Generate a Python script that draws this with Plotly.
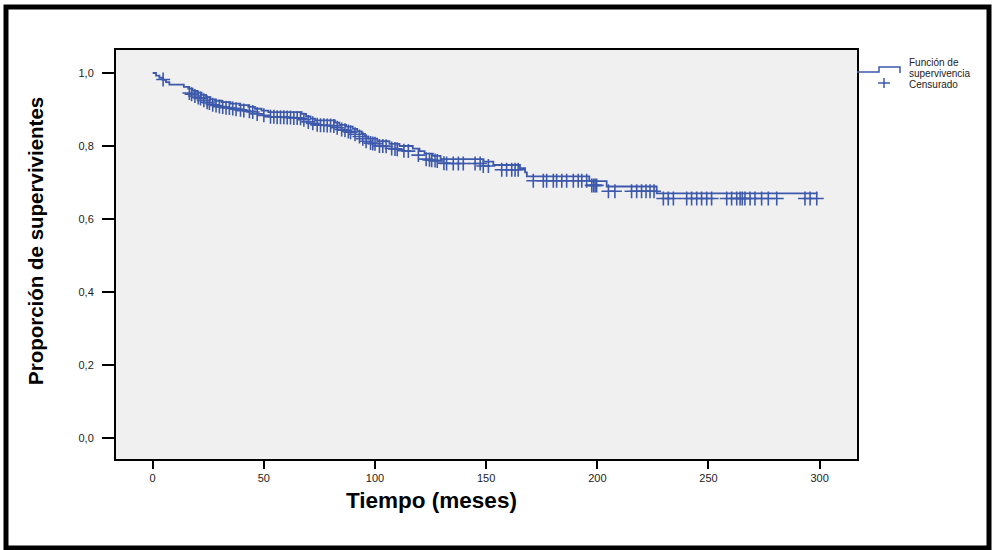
import plotly.graph_objects as go

# Step function (Kaplan-Meier line levels)
surv_time = [0, 1.5, 3, 4.5, 6, 7.5, 14, 16, 18, 20, 22, 24, 26, 28, 31, 35, 39, 43, 46, 49, 52,
             67, 69, 71, 73, 82, 84, 87, 90, 92, 94, 95.5, 97, 101, 106.5, 111, 117, 120, 122.3,
             126, 129.5, 148.8, 153.2, 165.2, 167.5, 168.3, 196.4, 204.2, 226.7, 299]
surv_prob = [1.000, 0.993, 0.987, 0.981, 0.975, 0.968, 0.962, 0.957, 0.951, 0.946, 0.940, 0.934,
             0.928, 0.924, 0.920, 0.916, 0.912, 0.907, 0.902, 0.897, 0.893,
             0.888, 0.881, 0.875, 0.870, 0.864, 0.858, 0.853, 0.847, 0.840, 0.833, 0.826, 0.820,
             0.813, 0.806, 0.800, 0.793, 0.786, 0.779, 0.773, 0.764, 0.757, 0.748, 0.739, 0.728,
             0.717, 0.704, 0.689, 0.670, 0.670]

# Censored observations (as drawn)
cens_time = [4.7, 16.5, 17.5, 19, 20.5, 21.5, 23, 24.5, 25.5, 27, 28.5, 30, 31.5, 33, 34.5, 36,
             37.5, 39.5, 41, 43.5, 45, 47, 50, 53, 54.5, 56, 57.5, 59, 60.5, 62, 63.5, 65, 66.5,
             68, 70, 72, 74, 75.5, 77, 78.5, 80, 81.5, 83, 85, 86.5, 88, 89, 91, 93, 94.5, 96,
             98, 99, 100, 102, 103.5, 105, 107.5, 109, 110, 113, 115, 119.5, 123, 124.5, 125.5,
             127, 128, 131, 132.2, 135.2, 137.5, 139.7, 145, 147.3, 148.7, 151, 157, 159.2,
             161.5, 163, 164.4, 171.2, 175.7, 177.2, 180.2, 181.7, 184, 186.2, 189.2, 191.4,
             193, 195.2, 197.5, 198.3, 199, 199.7, 205, 207.9, 215.4, 217.7, 219.9, 221.9,
             223.7, 225.5, 229.7, 231.9, 234.2, 240.2, 242.4, 244.7, 246.9, 249.2, 251.4,
             258.2, 260.4, 262.7, 264.2, 265.2, 266.4, 268.7, 270.9, 273.9, 276.9, 280.7,
             293.4, 295.7, 298.7]
cens_prob = [0.982, 0.945, 0.942, 0.937, 0.933, 0.930, 0.925, 0.920, 0.918, 0.913, 0.911, 0.908,
             0.907, 0.905, 0.904, 0.903, 0.901, 0.899, 0.897, 0.895, 0.893, 0.888, 0.884, 0.880,
             0.880, 0.879, 0.879, 0.879, 0.878, 0.878, 0.877, 0.877, 0.876, 0.872, 0.866, 0.862,
             0.858, 0.857, 0.857, 0.856, 0.856, 0.855, 0.850, 0.845, 0.843, 0.840, 0.838, 0.832,
             0.826, 0.820, 0.813, 0.808, 0.807, 0.806, 0.800, 0.800, 0.799, 0.793, 0.792, 0.791,
             0.787, 0.786, 0.775, 0.764, 0.762, 0.761, 0.760, 0.759, 0.753, 0.752, 0.752, 0.752,
             0.752, 0.752, 0.752, 0.745, 0.745, 0.735, 0.735, 0.735, 0.735, 0.735, 0.705, 0.705,
             0.705, 0.705, 0.705, 0.705, 0.705, 0.705, 0.705, 0.705, 0.705, 0.692, 0.692, 0.692,
             0.692, 0.676, 0.676, 0.676, 0.676, 0.676, 0.676, 0.676, 0.676, 0.656, 0.656, 0.656,
             0.656, 0.656, 0.656, 0.656, 0.656, 0.656, 0.656, 0.656, 0.656, 0.656, 0.656, 0.656,
             0.656, 0.656, 0.656, 0.656, 0.656, 0.656, 0.656, 0.656, 0.656]

x_ticks = [0, 50, 100, 150, 200, 250, 300]
y_ticks = [0.0, 0.2, 0.4, 0.6, 0.8, 1.0]

BLUE = "#3D59AB"
FONT = "Liberation Sans, Arial, sans-serif"
W, H = 994, 550
L, R, T, B = 116, 857, 50, 459

def px(x):
    return (x - L) / (R - L)

def py(y):
    return (B - y) / (B - T)

fig = go.Figure()
fig.add_trace(go.Scatter(x=surv_time, y=surv_prob, mode="lines", line=dict(color=BLUE, width=1.8, shape="hv"),
                         showlegend=False, hoverinfo="skip"))
fig.add_trace(go.Scatter(x=cens_time, y=cens_prob, mode="markers",
                         marker=dict(symbol="cross-thin", size=10, line=dict(color=BLUE, width=1.6)),
                         showlegend=False, hoverinfo="skip"))

shapes = [
    # outer frame
    dict(type="rect", xref="paper", yref="paper", x0=px(6), x1=px(989), y0=py(548), y1=py(7),
         line=dict(color="black", width=5), layer="above"),
    # legend step symbol
    dict(type="path", xref="paper", yref="paper",
         path=f"M {px(857)} {py(72)} L {px(879)} {py(72)} L {px(879)} {py(67)} L {px(900)} {py(67)} L {px(900)} {py(73)}",
         line=dict(color=BLUE, width=1.5)),
    # legend cross
    dict(type="line", xref="paper", yref="paper", x0=px(878), x1=px(890), y0=py(83), y1=py(83),
         line=dict(color=BLUE, width=1.5)),
    dict(type="line", xref="paper", yref="paper", x0=px(884), x1=px(884), y0=py(78), y1=py(88),
         line=dict(color=BLUE, width=1.5)),
]

LEG = dict(family=FONT, size=10, color="#222")
annotations = [
    dict(xref="paper", yref="paper", x=px(908), y=py(62.3), text="Función de", showarrow=False,
         xanchor="left", yanchor="middle", font=LEG, borderpad=0),
    dict(xref="paper", yref="paper", x=px(908), y=py(73.5), text="supervivencia", showarrow=False,
         xanchor="left", yanchor="middle", font=LEG, borderpad=0),
    dict(xref="paper", yref="paper", x=px(908), y=py(84.7), text="Censurado", showarrow=False,
         xanchor="left", yanchor="middle", font=LEG, borderpad=0),
    dict(xref="paper", yref="paper", x=px(431), y=py(501), text="<b>Tiempo (meses)</b>", showarrow=False,
         xanchor="center", yanchor="middle", font=dict(family=FONT, size=22.5, color="black")),
    dict(xref="paper", yref="paper", x=px(35), y=py(241), text="<b>Proporción de supervivientes</b>",
         showarrow=False, textangle=-90, xanchor="center", yanchor="middle",
         font=dict(family=FONT, size=20.5, color="black")),
]

fig.update_layout(
    width=W, height=H,
    margin=dict(l=L, r=W - R, t=T, b=H - B, pad=0),
    paper_bgcolor="white", plot_bgcolor="#F0F0F0",
    separators=",.",
    font=dict(family=FONT, size=11, color="#222"),
    shapes=shapes, annotations=annotations,
    showlegend=False,
)
fig.update_xaxes(range=[-16.5, 316.8], tickvals=x_ticks, ticks="outside", ticklen=8, tickwidth=2,
                 tickcolor="black", showline=True, linecolor="black", linewidth=2, mirror=True,
                 showgrid=False, zeroline=False, tickfont=dict(family=FONT, size=11, color="#222"))
fig.update_yaxes(range=[-0.0575, 1.063], tickvals=y_ticks, tickformat=".1f", ticks="outside", ticklen=12,
                 tickwidth=2, tickcolor="black", showline=True, linecolor="black", linewidth=2, mirror=True,
                 showgrid=False, zeroline=False, ticklabelstandoff=6,
                 tickfont=dict(family=FONT, size=11, color="#222"))

fig.write_html("out.html")
